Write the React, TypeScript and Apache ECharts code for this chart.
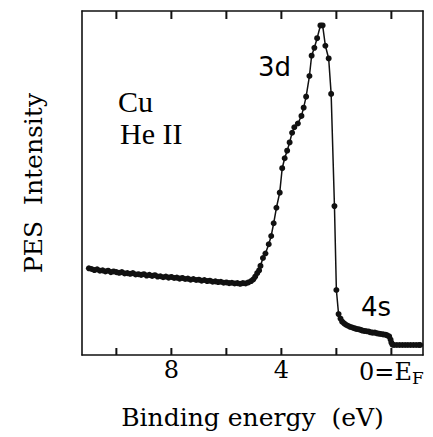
import React, { useEffect, useRef } from "react";
import * as echarts from "echarts";

// Binding energy (eV) of each measured point
const energy = [
  11.0, 10.9, 10.8, 10.7, 10.6, 10.5, 10.4, 10.3, 10.2, 10.1,
  10.0, 9.9, 9.8, 9.7, 9.6, 9.5, 9.4, 9.3, 9.2, 9.1,
  9.0, 8.9, 8.8, 8.7, 8.6, 8.5, 8.4, 8.3, 8.2, 8.1,
  8.0, 7.9, 7.8, 7.7, 7.6, 7.5, 7.4, 7.3, 7.2, 7.1,
  7.0, 6.9, 6.8, 6.7, 6.6, 6.5, 6.4, 6.3, 6.2, 6.1,
  6.0, 5.9, 5.8, 5.7, 5.6, 5.5, 5.4, 5.3, 5.2, 5.1,
  5.02, 4.95, 4.88, 4.81, 4.76, 4.67, 4.58, 4.46, 4.37, 4.28,
  4.18, 4.06, 3.97, 3.88, 3.79, 3.7, 3.61, 3.53, 3.4, 3.27,
  3.19, 3.1, 2.98, 2.9, 2.8, 2.7, 2.58, 2.5, 2.4, 2.28,
  2.19, 2.07, 2.0, 1.92, 1.85, 1.79, 1.72, 1.65, 1.58, 1.5,
  1.42, 1.35, 1.28, 1.2, 1.12, 1.05, 0.98, 0.9, 0.82, 0.75,
  0.68, 0.6, 0.52, 0.45, 0.38, 0.3, 0.22, 0.15, 0.08, 0.03,
  0.0, -0.04, -0.1, -0.2, -0.3, -0.4, -0.5, -0.6, -0.7, -0.8,
  -0.9, -1.0, -1.05,
];

// PES intensity (arbitrary units) at each energy
const intensity = [
  25.2, 25.0, 24.7, 24.9, 24.5, 24.6, 24.3, 24.5, 24.1, 24.3,
  24.1, 23.9, 24.1, 23.7, 23.8, 23.6, 23.8, 23.4, 23.5, 23.3,
  23.5, 23.1, 23.3, 23.0, 23.2, 22.8, 22.9, 22.6, 22.8, 22.5,
  22.7, 22.4, 22.5, 22.2, 22.4, 22.1, 22.2, 21.9, 22.1, 21.8,
  21.9, 21.6, 21.8, 21.5, 21.6, 21.3, 21.4, 21.2, 21.3, 21.0,
  21.1, 20.9, 21.0, 20.8, 20.9, 20.7, 20.9, 20.8, 21.1, 21.5,
  22.0, 22.8, 23.8, 24.6, 25.9, 28.2, 29.5, 32.2, 34.6, 38.3,
  42.8, 47.2, 54.3, 57.2, 59.4, 61.8, 64.6, 66.2, 67.3, 69.5,
  71.9, 75.1, 81.1, 87.0, 89.3, 92.1, 95.8, 95.8, 89.9, 86.2,
  75.9, 43.3, 18.9, 11.9, 10.6, 9.7, 9.2, 8.8, 8.5, 8.2,
  8.0, 7.8, 7.6, 7.5, 7.3, 7.1, 7.0, 6.9, 6.8, 6.6,
  6.5, 6.5, 6.3, 6.2, 6.1, 6.0, 5.9, 5.7, 5.4, 4.5,
  3.6, 3.0, 2.9, 2.9, 2.9, 2.9, 2.9, 2.9, 2.9, 2.9,
  2.9, 2.9, 2.9,
];

const tickValues = [0, 2, 4, 6, 8, 10];
const labelValues = [0, 4, 8];

const Y_MIN = 0;
const Y_MAX = 100;

const SERIF = "DejaVu Serif";

export default function App() {
  const ref = useRef<HTMLDivElement>(null);

  useEffect(() => {
    if (!ref.current) return;
    const chart = echarts.init(ref.current, null, { renderer: "svg" });
    const data = energy.map((e, i) => [e, intensity[i]]);
    const frame = { show: true, onZero: false, lineStyle: { color: "#111", width: 1.6 } };
    chart.setOption({
      animation: false,
      backgroundColor: "#fff",
      grid: { left: 82, right: 10, top: 11, bottom: 82 },
      xAxis: [
        {
          type: "value",
          position: "bottom",
          inverse: true,
          min: -1.15,
          max: 11.25,
          axisLine: frame,
          axisTick: { show: false },
          splitLine: { show: false },
          axisLabel: {
            customValues: labelValues,
            margin: 3,
            fontFamily: SERIF,
            fontSize: 24,
            color: "#000",
            formatter: (v: number) =>
              v === 0 ? "{a|0=E}{sub|F}" : "{a|" + v + "}",
            rich: {
              a: { fontFamily: SERIF, fontSize: 24, color: "#000" },
              sub: {
                fontFamily: SERIF,
                fontSize: 17,
                color: "#000",
                padding: [11, 0, 0, 0],
              },
            },
          },
          name: "Binding energy  (eV)",
          nameLocation: "middle",
          nameGap: 50,
          nameTextStyle: { fontFamily: SERIF, fontSize: 25, color: "#000" },
        },
        {
          type: "value",
          position: "top",
          inverse: true,
          min: -1.15,
          max: 11.25,
          axisLine: frame,
          axisTick: { show: false },
          axisLabel: { show: false },
          splitLine: { show: false },
        },
      ],
      yAxis: [
        {
          type: "value",
          position: "left",
          min: Y_MIN,
          max: Y_MAX,
          axisLine: frame,
          axisTick: { show: false },
          axisLabel: { show: false },
          splitLine: { show: false },
          name: "PES  Intensity",
          nameLocation: "middle",
          nameRotate: 90,
          nameGap: 36,
          nameTextStyle: { fontFamily: SERIF, fontSize: 25, color: "#000" },
        },
        {
          type: "value",
          position: "right",
          min: Y_MIN,
          max: Y_MAX,
          axisLine: frame,
          axisTick: { show: false },
          axisLabel: { show: false },
          splitLine: { show: false },
        },
      ],
      graphic: [
        {
          type: "text",
          left: 118,
          top: 86,
          style: { text: "Cu", fontFamily: "Liberation Serif", fontSize: 30, fill: "#000" },
        },
        {
          type: "text",
          left: 120,
          top: 118,
          style: { text: "He II", fontFamily: "Liberation Serif", fontSize: 30, fill: "#000" },
        },
        {
          type: "text",
          left: 258,
          top: 54,
          style: { text: "3d", fontFamily: "DejaVu Sans", fontSize: 26, fill: "#000" },
        },
        {
          type: "text",
          left: 361,
          top: 294,
          style: { text: "4s", fontFamily: "DejaVu Sans", fontSize: 26, fill: "#000" },
        },
      ],
      series: [
        {
          // tick marks on the bottom and top frame, placed through the x scale
          type: "custom",
          xAxisIndex: 0,
          yAxisIndex: 0,
          silent: true,
          data: tickValues.map((t) => [t, Y_MIN]),
          encode: { x: 0, y: 1 },
          renderItem: (params: any, api: any) => {
            const v = api.value(0);
            const b = api.coord([v, Y_MIN]);
            const t = api.coord([v, Y_MAX]);
            return {
              type: "group",
              children: [
                {
                  type: "rect",
                  shape: { x: b[0] - 1, y: b[1] - 7, width: 2, height: 7 },
                  style: { fill: "#111" },
                },
                {
                  type: "rect",
                  shape: { x: t[0] - 1, y: t[1], width: 2, height: 8 },
                  style: { fill: "#111" },
                },
              ],
            };
          },
        },
        {
          type: "line",
          xAxisIndex: 0,
          yAxisIndex: 0,
          data,
          symbol: "circle",
          symbolSize: 6,
          showSymbol: true,
          itemStyle: { color: "#111" },
          lineStyle: { color: "#111", width: 1.5 },
        },
      ],
    });
    return () => chart.dispose();
  }, []);

  return (
    <div
      ref={ref}
      style={{ position: "fixed", left: 0, top: 0, width: 433, height: 437 }}
    />
  );
}
